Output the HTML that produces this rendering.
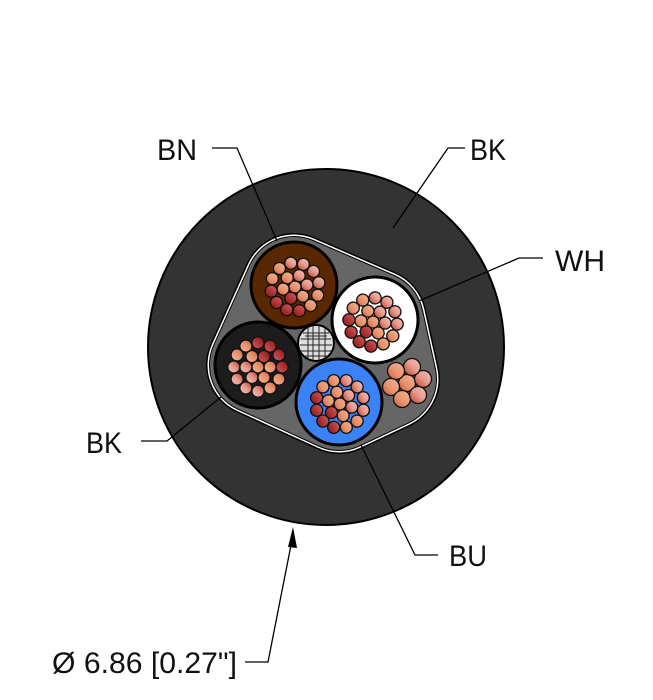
<!DOCTYPE html>
<html><head><meta charset="utf-8"><style>
html,body{margin:0;padding:0;background:#fff;}
svg{display:block;}
text{font-family:"Liberation Sans",sans-serif;font-size:30px;fill:#111;}
</style></head><body>
<svg width="653" height="700" viewBox="0 0 653 700" xmlns="http://www.w3.org/2000/svg">
<defs>
<linearGradient id="ga" x1="1" y1="0" x2="0" y2="1"><stop offset="0" stop-color="#f3c4c4"/><stop offset="0.5" stop-color="#e79a8a"/><stop offset="1" stop-color="#b83a2c"/></linearGradient>
<linearGradient id="gb" x1="1" y1="0" x2="0" y2="1"><stop offset="0" stop-color="#f4b89a"/><stop offset="0.6" stop-color="#e6906a"/><stop offset="1" stop-color="#c0553a"/></linearGradient>
<linearGradient id="gc" x1="1" y1="0" x2="0" y2="1"><stop offset="0" stop-color="#d86060"/><stop offset="1" stop-color="#8a1010"/></linearGradient>
<g id="cl" stroke="#111" stroke-width="1.2">
<circle cx="0" cy="0" r="5.5" fill="url(#gb)"/>
<circle cx="11" cy="0" r="5.5" fill="url(#ga)"/>
<circle cx="5.5" cy="-9.5" r="5.5" fill="url(#ga)"/>
<circle cx="-5.5" cy="-9.5" r="5.5" fill="url(#gb)"/>
<circle cx="-11" cy="0" r="5.5" fill="url(#gb)"/>
<circle cx="-5.5" cy="9.5" r="5.5" fill="url(#gc)"/>
<circle cx="5.5" cy="9.5" r="5.5" fill="url(#gb)"/>
<circle cx="22" cy="0" r="5.5" fill="url(#ga)"/>
<circle cx="11" cy="-19" r="5.5" fill="url(#ga)"/>
<circle cx="-11" cy="-19" r="5.5" fill="url(#gb)"/>
<circle cx="-22" cy="0" r="5.5" fill="url(#gc)"/>
<circle cx="-11" cy="19" r="5.5" fill="url(#gc)"/>
<circle cx="11" cy="19" r="5.5" fill="url(#gb)"/>
<circle cx="19" cy="-11" r="5.5" fill="url(#ga)"/>
<circle cx="0" cy="-22" r="5.5" fill="url(#ga)"/>
<circle cx="-19" cy="-11" r="5.5" fill="url(#gb)"/>
<circle cx="-19" cy="11" r="5.5" fill="url(#gc)"/>
<circle cx="0" cy="22" r="5.5" fill="url(#gc)"/>
<circle cx="19" cy="11" r="5.5" fill="url(#gb)"/>
</g>
</defs>
<circle cx="326" cy="347" r="178" fill="#333" stroke="#000" stroke-width="2"/>
<g stroke-linejoin="round">
<polygon points="294,285 375,320 388,379 339,402 258,365" fill="#000" stroke="#000" stroke-width="104"/>
<polygon points="294,285 375,320 388,379 339,402 258,365" fill="#fff" stroke="#fff" stroke-width="101"/>
<polygon points="294,285 375,320 388,379 339,402 258,365" fill="#000" stroke="#000" stroke-width="98"/>
<polygon points="294,285 375,320 388,379 339,402 258,365" fill="#666" stroke="#666" stroke-width="96"/>
</g>
<circle cx="294" cy="285" r="43" fill="#5a2800" stroke="#000" stroke-width="3"/>
<circle cx="375" cy="320" r="43" fill="#fff" stroke="#000" stroke-width="3"/>
<circle cx="258" cy="365" r="43" fill="#1c1c1c" stroke="#000" stroke-width="3"/>
<circle cx="339" cy="402" r="43" fill="#3b82f6" stroke="#000" stroke-width="3"/>
<circle cx="316" cy="343" r="18" fill="#ddd" stroke="#000" stroke-width="2"/>
<g stroke="#222" stroke-width="1">
<path d="M303 333H329M301 339H331M300 345H332M301 351H331M304 356H328M308 328V358M313 326V360M319 326V360M325 328V358M305 336L327 336"/>
</g>
<use href="#cl" transform="translate(295,287) rotate(-10) scale(1.1)"/>
<use href="#cl" transform="translate(373,322) rotate(5) scale(1.1)"/>
<use href="#cl" transform="translate(258,367) rotate(180) scale(1.1)"/>
<use href="#cl" transform="translate(340,404) rotate(15) scale(1.1)"/>
<g stroke="#111" stroke-width="1.3">
<circle cx="407" cy="383" r="8.5" fill="url(#gb)"/>
<circle cx="423" cy="379" r="8.5" fill="url(#ga)"/>
<circle cx="412" cy="367" r="8.5" fill="url(#ga)"/>
<circle cx="396" cy="371" r="8.5" fill="url(#gb)"/>
<circle cx="391" cy="387" r="8.5" fill="url(#gb)"/>
<circle cx="402" cy="399" r="8.5" fill="url(#gb)"/>
<circle cx="418" cy="395" r="8.5" fill="url(#ga)"/>
</g>
<g fill="none" stroke="#000" stroke-width="1.3">
<polyline points="212,148 237,148 277,241"/>
<polyline points="465,148 448,148 393,228"/>
<polyline points="543,258 519,258 419,301"/>
<polyline points="141,441 167,441 221,397"/>
<polyline points="438,555 415,555 361,445"/>
<polyline points="245,662 268,662 292,540"/>
</g>
<polygon points="293,527 288,547 297,548" fill="#000"/>
<text x="157" y="160" textLength="40" lengthAdjust="spacingAndGlyphs">BN</text>
<text x="470" y="160" textLength="36" lengthAdjust="spacingAndGlyphs">BK</text>
<text x="555" y="271" textLength="50" lengthAdjust="spacingAndGlyphs">WH</text>
<text x="86" y="453" textLength="36" lengthAdjust="spacingAndGlyphs">BK</text>
<text x="449" y="566" textLength="38" lengthAdjust="spacingAndGlyphs">BU</text>
<text x="52" y="673" textLength="185" lengthAdjust="spacingAndGlyphs">Ø 6.86 [0.27"]</text>
</svg>
</body></html>
